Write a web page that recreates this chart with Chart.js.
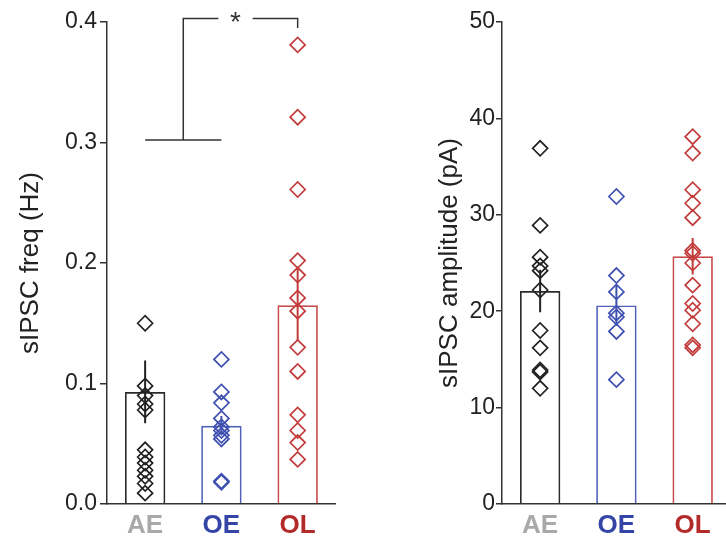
<!DOCTYPE html>
<html>
<head>
<meta charset="utf-8">
<title>sIPSC frequency and amplitude</title>
<script src="https://cdn.jsdelivr.net/npm/chart.js@4.4.1/dist/chart.umd.min.js"></script>
<style>
  html, body { margin: 0; padding: 0; background: #fff; overflow: hidden; }
  #wrap { position: relative; width: 726px; height: 541px; overflow: hidden; }
  canvas { position: absolute; top: 0; }
  #freq { left: 0; }
  #amp { left: 380px; }
</style>
</head>
<body>
<div id="wrap">
  <canvas id="freq" width="345" height="541"></canvas>
  <canvas id="amp" width="360" height="541"></canvas>
</div>
<script>
// Groups
const groups = ['AE', 'OE', 'OL'];

// sIPSC frequency (Hz), one value per recorded cell
const freqAE = [0.150, 0.098, 0.090, 0.083, 0.078, 0.045, 0.039, 0.034, 0.028, 0.023, 0.017, 0.009];
const freqOE = [0.120, 0.093, 0.084, 0.071, 0.064, 0.061, 0.057, 0.054, 0.019, 0.018];
const freqOL = [0.381, 0.321, 0.261, 0.202, 0.190, 0.171, 0.160, 0.130, 0.110, 0.074, 0.061, 0.051, 0.037];
const freqMean = [0.093, 0.065, 0.165];
const freqSem = [0.026, 0.008, 0.030];
const freqTicks = [0, 0.1, 0.2, 0.3, 0.4];

// sIPSC amplitude (pA), one value per recorded cell
const ampAE = [36.9, 28.9, 25.6, 24.7, 24.2, 22.2, 18.0, 16.2, 13.9, 13.7, 12.0];
const ampOE = [31.9, 23.7, 22.0, 19.8, 19.4, 17.9, 12.9];
const ampOL = [38.1, 36.4, 32.6, 31.2, 29.7, 26.3, 26.0, 25.0, 22.7, 20.8, 20.1, 18.7, 16.5, 16.2];
const ampMean = [22.1, 20.6, 25.7];
const ampSem = [2.2, 2.1, 1.9];
const ampTicks = [0, 10, 20, 30, 40, 50];

// Significance: AE and OE pooled vs OL
const sigLabel = '*';
const sigLevels = { base: 0.302, top: 0.403, drop: 0.395 };

const barColors = ['#2b2b2b', '#5060b8', '#c94a4a'];
const pointColors = ['#222222', '#3f50b0', '#c23c3c'];
const labelColors = ['#a9a9a9', '#3445a6', '#b32a2a'];

Chart.defaults.font.family = '"Liberation Sans", Arial, Helvetica, sans-serif';
Chart.defaults.color = '#222';

// Bracket with asterisk, positioned through the chart's own scales
const bracketPlugin = {
  id: 'sigBracket',
  afterDatasetsDraw(chart, args, opts) {
    if (!opts || !opts.levels) return;
    const { ctx, scales: { x, y } } = chart;
    const px = v => x.getPixelForValue(v);
    const py = v => y.getPixelForValue(v);
    const lv = opts.levels;
    const stem = (opts.pooled[0] + opts.pooled[1]) / 2;
    ctx.save();
    ctx.strokeStyle = opts.color;
    ctx.lineWidth = opts.width;
    ctx.lineCap = 'butt';
    ctx.beginPath();
    ctx.moveTo(px(opts.pooled[0]), py(lv.base));
    ctx.lineTo(px(opts.pooled[1]), py(lv.base));
    ctx.moveTo(px(stem), py(lv.base));
    ctx.lineTo(px(stem), py(lv.top));
    ctx.lineTo(px(opts.gap[0]), py(lv.top));
    ctx.moveTo(px(opts.gap[1]), py(lv.top));
    ctx.lineTo(px(opts.target), py(lv.top));
    ctx.lineTo(px(opts.target), py(lv.drop));
    ctx.stroke();
    ctx.font = opts.font;
    ctx.fillStyle = opts.color;
    ctx.textAlign = 'center';
    ctx.textBaseline = 'alphabetic';
    const m = ctx.measureText(opts.label);
    const cy = py(lv.top) - 1.5;
    ctx.fillText(opts.label, px((opts.gap[0] + opts.gap[1]) / 2),
      cy + (m.actualBoundingBoxAscent - m.actualBoundingBoxDescent) / 2);
    ctx.restore();
  }
};

function makeChart(id, cfg) {
  const datasets = [];
  datasets.push({
    type: 'bar',
    data: cfg.mean.map((v, i) => ({ x: i, y: v })),
    backgroundColor: 'rgba(255,255,255,0)',
    borderColor: barColors,
    borderWidth: 1.7,
    borderSkipped: 'start',
    barPercentage: 0.53,
    categoryPercentage: 1,
    order: 3
  });
  cfg.cells.forEach((vals, i) => {
    datasets.push({
      type: 'scatter',
      data: vals.map(v => ({ x: i, y: v })),
      pointStyle: 'rectRot',
      pointRadius: 7.5,
      pointBorderWidth: 1.7,
      borderColor: pointColors[i],
      backgroundColor: 'rgba(0,0,0,0)',
      order: 2
    });
  });
  cfg.mean.forEach((m, i) => {
    datasets.push({
      type: 'line',
      data: [{ x: i, y: m - cfg.sem[i] }, { x: i, y: m + cfg.sem[i] }],
      borderColor: pointColors[i],
      borderWidth: 2,
      pointRadius: 0,
      order: 1
    });
  });

  return new Chart(document.getElementById(id), {
    type: 'bar',
    data: { datasets },
    plugins: cfg.plugins || [],
    options: {
      responsive: false,
      animation: false,
      devicePixelRatio: 1,
      layout: { padding: { top: 22, right: 0, bottom: 0, left: 0 } },
      plugins: {
        legend: { display: false },
        tooltip: { enabled: false },
        sigBracket: cfg.bracket || false
      },
      scales: {
        x: {
          type: 'linear',
          min: -0.5,
          max: 2.5,
          offset: false,
          afterBuildTicks: s => { s.ticks = groups.map((g, i) => ({ value: i })); },
          afterFit: s => { s.height = 37; },
          ticks: {
            callback: (v, i) => groups[i],
            color: c => labelColors[c.index],
            font: { size: 26, weight: 'bold' },
            padding: 6,
            autoSkip: false,
            maxRotation: 0
          },
          grid: { display: false, drawTicks: false },
          border: { display: true, color: '#333', width: 1.5 }
        },
        y: {
          min: cfg.yTicks[0],
          max: cfg.yTicks[cfg.yTicks.length - 1],
          afterBuildTicks: s => { s.ticks = cfg.yTicks.map(v => ({ value: v })); },
          afterFit: s => { s.width = cfg.yWidth; },
          ticks: {
            callback: cfg.tickFmt,
            color: '#222',
            font: { size: 23 },
            padding: cfg.tickPad
          },
          grid: {
            display: true,
            drawOnChartArea: false,
            drawTicks: true,
            tickLength: cfg.tickLen,
            color: '#333',
            lineWidth: 1.5
          },
          border: { display: true, color: '#333', width: 1.5 },
          title: {
            display: true,
            text: cfg.title,
            color: '#222',
            font: { size: 26 },
            padding: { top: cfg.titlePad, bottom: 0 }
          }
        }
      }
    }
  });
}

makeChart('freq', {
  cells: [freqAE, freqOE, freqOL],
  mean: freqMean,
  sem: freqSem,
  yTicks: freqTicks,
  tickFmt: v => v.toFixed(1),
  title: 'sIPSC freq (Hz)',
  yWidth: 107,
  tickLen: 7,
  tickPad: 3,
  titlePad: 15,
  plugins: [bracketPlugin],
  bracket: {
    levels: sigLevels,
    pooled: [0, 1],
    gap: [0.96, 1.41],
    target: 2,
    label: sigLabel,
    color: '#333',
    width: 1.5,
    font: '28px "Liberation Sans", Arial, sans-serif'
  }
});

makeChart('amp', {
  cells: [ampAE, ampOE, ampOL],
  mean: ampMean,
  sem: ampSem,
  yTicks: ampTicks,
  tickFmt: v => String(v),
  title: 'sIPSC amplitude (pA)',
  yWidth: 122,
  tickLen: 6,
  tickPad: 1,
  titlePad: 54
});
</script>
</body>
</html>
